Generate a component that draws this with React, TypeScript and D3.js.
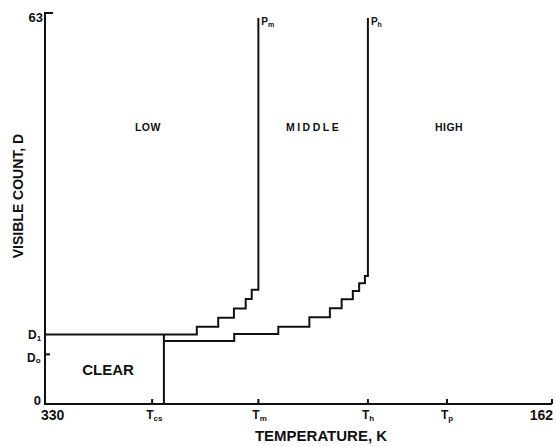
import React, { useEffect, useRef } from 'react'
import * as d3 from 'd3'

// temperature axis (K), reversed: warm on the left
const tempDomain = [330, 162]
const countDomain = [0, 63]

// named thresholds
const T_CS = 294.5
const T_CLEAR = 290.6
const T_M = 259.3
const T_H = 223
const T_P = 196.8
const D_1 = 11.2
const D_0 = 8

// low / middle boundary staircase (step after)
const lowMidT = [330, 279.7, 272.6, 267.4, 263.5, 261.5, T_M]
const lowMidD = [D_1, 12.45, 13.9, 15.4, 16.9, 18.4, 62.2]

// middle / high boundary staircase (step after)
const midHighT = [T_CLEAR, 267.3, 252.7, 242.4, 235.6, 231.7, 228.0, 225.9, 224.0, T_H]
const midHighD = [10.15, 11.28, 12.45, 13.97, 15.42, 16.87, 18.2, 19.45, 20.62, 62.2]

const xTicks = [
  { v: T_CS, main: 'T', sub: 'cs' },
  { v: T_M, main: 'T', sub: 'm' },
  { v: T_H, main: 'T', sub: 'h' },
  { v: T_P, main: 'T', sub: 'p' },
]

const regionLabels = [
  { text: 'LOW', t: 295.9, d: 44, ls: 0.5 },
  { text: 'MIDDLE', t: 241, d: 44, ls: 2.5 },
  { text: 'HIGH', t: 196.1, d: 44, ls: 0.5 },
]

const W = 556
const H = 447
const font = '"Liberation Sans", Arial, sans-serif'

export default function App() {
  const ref = useRef<SVGSVGElement>(null)

  useEffect(() => {
    const svg = d3.select(ref.current)
    svg.selectAll('*').remove()

    const x = d3.scaleLinear().domain(tempDomain).range([45, 552])
    const y = d3.scaleLinear().domain(countDomain).range([404, 13])

    const g = svg.append('g').attr('fill', 'none').attr('stroke', '#111').attr('stroke-width', 2)

    // axes: left axis with small top stub, bottom axis
    g.append('path').attr(
      'd',
      `M${x(330) + 8},${y(63)}H${x(330)}V${y(0)}H${x(162)}`
    )

    // ticks on bottom axis
    g.selectAll('line.xt')
      .data([...xTicks.map((d) => d.v), 162])
      .join('line')
      .attr('x1', (d) => x(d))
      .attr('x2', (d) => x(d))
      .attr('y1', y(0))
      .attr('y2', y(0) - 5)

    // D0 tick
    g.append('line')
      .attr('x1', x(330))
      .attr('x2', x(330) + 5)
      .attr('y1', y(D_0))
      .attr('y2', y(D_0))

    const line = d3
      .line<number>()
      .x((d) => x(d))
      .curve(d3.curveStepAfter)

    g.append('path').attr(
      'd',
      line.y((_, i) => y(lowMidD[i]))(lowMidT)
    )
    g.append('path').attr(
      'd',
      line.y((_, i) => y(midHighD[i]))(midHighT)
    )

    // clear box right edge
    g.append('line')
      .attr('x1', x(T_CLEAR))
      .attr('x2', x(T_CLEAR))
      .attr('y1', y(0))
      .attr('y2', y(D_1))

    const txt = svg.append('g').attr('font-family', font).attr('font-weight', 'bold').attr('fill', '#111')

    // x tick labels
    txt.append('text').attr('x', x(330) - 4).attr('y', 420).attr('font-size', 14).text('330')
    txt.append('text').attr('x', x(162) + 1).attr('y', 420).attr('font-size', 14).attr('text-anchor', 'end').text('162')

    const xl = txt
      .selectAll('text.xl')
      .data(xTicks)
      .join('text')
      .attr('x', (d) => x(d.v) - 6)
      .attr('y', 419)
      .attr('font-size', 12)
    xl.append('tspan').text((d) => d.main)
    xl.append('tspan').attr('font-size', 8).attr('dy', 2).text((d) => d.sub)

    // y labels
    txt.append('text').attr('x', 43).attr('y', y(63) + 9).attr('font-size', 13).attr('text-anchor', 'end').text('63')
    txt.append('text').attr('x', 41).attr('y', y(0) + 1).attr('font-size', 13).attr('text-anchor', 'end').text('0')
    const d1 = txt.append('text').attr('x', 28).attr('y', y(D_1) + 5).attr('font-size', 12)
    d1.append('tspan').text('D')
    d1.append('tspan').attr('font-size', 8).attr('dy', 2).text('1')
    const d0 = txt.append('text').attr('x', 27).attr('y', y(D_0) + 8).attr('font-size', 12)
    d0.append('tspan').text('D')
    d0.append('tspan').attr('font-size', 8).attr('dy', 1).text('o')

    // P labels at top of verticals
    ;[
      { t: T_M, sub: 'm' },
      { t: T_H, sub: 'h' },
    ].forEach((p) => {
      const t = txt.append('text').attr('x', x(p.t) + 3).attr('y', 25).attr('font-size', 10)
      t.append('tspan').text('P')
      t.append('tspan').attr('font-size', 7).attr('dy', 2).text(p.sub)
    })

    // region labels
    txt
      .selectAll('text.rl')
      .data(regionLabels)
      .join('text')
      .attr('x', (d) => x(d.t))
      .attr('y', (d) => y(d.d))
      .attr('font-size', 10.5)
      .attr('letter-spacing', (d) => d.ls)
      .attr('text-anchor', 'middle')
      .text((d) => d.text)

    txt.append('text').attr('x', 108).attr('y', 375).attr('font-size', 15).attr('text-anchor', 'middle').text('CLEAR')

    // axis titles
    txt.append('text').attr('x', 321).attr('y', 441).attr('font-size', 15).attr('text-anchor', 'middle').text('TEMPERATURE, K')
    txt
      .append('text')
      .attr('transform', 'translate(23,196) rotate(-90)')
      .attr('font-size', 14)
      .attr('text-anchor', 'middle')
      .text('VISIBLE COUNT, D')
  }, [])

  return (
    <svg
      ref={ref}
      width={W}
      height={H}
      style={{ position: 'absolute', left: 0, top: 0, background: '#fff' }}
    />
  )
}
